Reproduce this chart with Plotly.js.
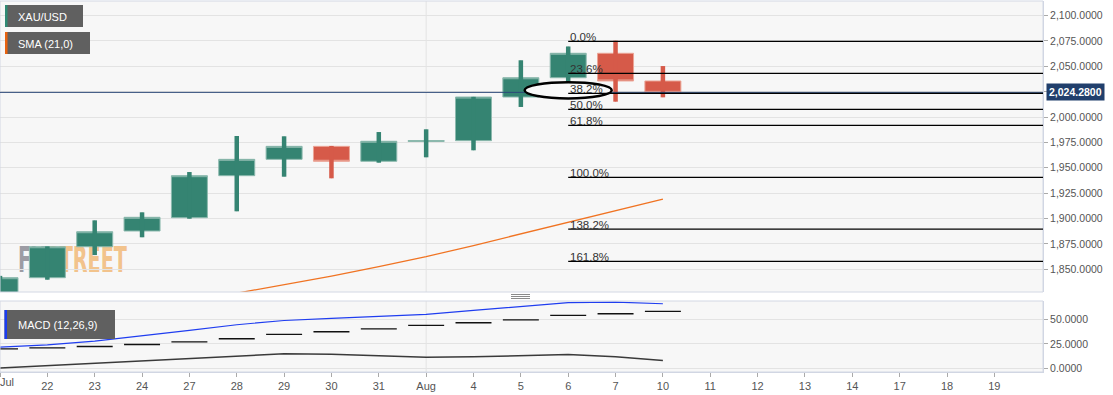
<!DOCTYPE html>
<html><head><meta charset="utf-8">
<script src="https://cdn.plot.ly/plotly-3.0.1.min.js"></script>
<style>html,body{margin:0;padding:0;background:#fff}#chart{width:1113px;height:395px}</style>
</head><body><div id="chart"></div>
<script>
// ---------- DATA ----------
const tickLabels = ['Jul','22','23','24','27','28','29','30','31','Aug','4','5','6','7','10','11','12','13','14','17','18','19'];
const candleIdx = [0,1,2,3,4,5,6,7,8,9,10,11,12,13,14];
const openP  = [1817.0,1841.7,1872.2,1887.7,1900.8,1942.2,1958.3,1971.1,1956.4,1975.9,1976.7,2019.7,2038.7,2062.8,2035.5];
const highP  = [1843.5,1872.6,1898.2,1906.1,1945.8,1981.3,1981.0,1971.5,1985.2,1987.9,2019.9,2055.9,2069.5,2075.2,2050.2];
const lowP   = [1815.0,1839.7,1864.0,1881.5,1899.8,1907.1,1941.2,1939.6,1955.0,1960.3,1967.2,2009.9,2034.0,2015.1,2019.4];
const closeP = [1841.7,1872.2,1887.0,1901.2,1942.2,1958.3,1971.1,1956.4,1976.1,1976.8,2019.7,2038.7,2062.8,2035.5,2024.28];
const smaIdx = [4,5,6,7,8,9,10,11,12,13,14];
const smaVal = [1818.0,1826.4,1834.8,1843.3,1852.7,1862.5,1873.4,1885.0,1896.5,1907.9,1919.2];
const macdVal   = [21.6,24.0,27.7,32.8,38.5,44.3,48.6,50.7,52.7,54.7,58.8,62.8,66.6,67.2,65.5];
const signalVal = [19.9,20.9,22.3,24.3,27.0,30.1,34.5,37.2,40.2,43.6,46.3,49.3,53.7,55.4,57.8];
const histVal   = [0.6,3.0,5.3,8.1,10.5,13.0,14.9,14.5,13.0,11.5,11.8,13.0,14.2,12.0,8.1];
const fibLevels = [0,23.6,38.2,50,61.8,100,138.2,161.8];
const fibHigh = 2074.5, fibLow = 1940.6, fibStart = 12;
const currentPrice = 2024.28;
const monthStartIdx = 9;

// ---------- helpers ----------
const PW = 1043, PT = 1, PB = 372;
const px = x => x / PW;
const py = y => (PB - y) / (PB - PT);
const GREEN = '#358472', RED = '#d65a49';

const incW = [], decW = [];
candleIdx.forEach((i,k)=>{
  const arr = closeP[k] >= openP[k] ? incW : decW;
  arr.push({x:i, h:highP[k], l:lowP[k]});
});
function wickTrace(list,color){
  const xs=[], ys=[];
  list.forEach(w=>{xs.push(w.x,w.x,null); ys.push(w.h,w.l,null);});
  return {type:'scatter',mode:'lines',x:xs,y:ys,xaxis:'x',yaxis:'y',line:{color:color,width:4.5},hoverinfo:'skip'};
}
const sigX=[], sigY=[];
candleIdx.forEach((i,k)=>{sigX.push(i-0.38,i+0.38,null); sigY.push(signalVal[k],signalVal[k],null);});

const traces = [
  {type:'candlestick', x:candleIdx, open:openP, high:highP, low:lowP, close:closeP, xaxis:'x', yaxis:'y',
   increasing:{line:{color:'#8cb9ae',width:1}, fillcolor:GREEN},
   decreasing:{line:{color:'#eba596',width:1}, fillcolor:RED},
   whiskerwidth:0, hoverinfo:'skip'},
  wickTrace(incW, GREEN),
  wickTrace(decW, RED),
  {type:'scatter',mode:'lines',x:smaIdx,y:smaVal,xaxis:'x',yaxis:'y',line:{color:'#f07322',width:1.3},hoverinfo:'skip'},
  {type:'scatter',mode:'lines',x:candleIdx,y:histVal,xaxis:'x',yaxis:'y2',line:{color:'#3a3a3a',width:1.5},hoverinfo:'skip'},
  {type:'scatter',mode:'lines',x:sigX,y:sigY,xaxis:'x',yaxis:'y2',line:{color:'#111',width:1.3},hoverinfo:'skip'},
  {type:'scatter',mode:'lines',x:candleIdx,y:macdVal,xaxis:'x',yaxis:'y2',line:{color:'#1f3df0',width:1.2},hoverinfo:'skip'}
];

const fibVal = fibLevels.map(l => fibHigh - (fibHigh - fibLow) * l / 100);
const fib382 = fibVal[fibLevels.indexOf(38.2)];

const shapes = [];
shapes.push({type:'line',xref:'x',yref:'y domain',x0:monthStartIdx,x1:monthStartIdx,y0:0,y1:1,line:{color:'#e3e3e3',width:1},layer:'below'});
shapes.push({type:'line',xref:'x',yref:'y2 domain',x0:monthStartIdx,x1:monthStartIdx,y0:0,y1:1,line:{color:'#e3e3e3',width:1},layer:'below'});
// watermark
shapes.push({type:'rect',xref:'paper',yref:'paper',x0:px(15),x1:px(200),y0:py(272),y1:py(242),line:{width:0},fillcolor:'rgba(0,0,0,0)',layer:'below',
  label:{text:'<span style="color:#9c9ca4">FX</span><span style="color:#f2c38c">STREET</span>',textposition:'middle left',padding:0,
  font:{family:'DejaVu Sans Condensed, Liberation Sans Narrow, sans-serif',size:36,weight:'bold',color:'#f2c38c'}}});
// panel borders
shapes.push({type:'rect',xref:'paper',yref:'paper',x0:0,x1:1,y0:py(292),y1:1,line:{color:'#d3d8e4',width:1},fillcolor:'rgba(0,0,0,0)',layer:'above'});
shapes.push({type:'rect',xref:'paper',yref:'paper',x0:0,x1:1,y0:0,y1:py(301),line:{color:'#d3d8e4',width:1},fillcolor:'rgba(0,0,0,0)',layer:'above'});
// current price line
shapes.push({type:'line',xref:'paper',yref:'y',x0:0,x1:1,y0:currentPrice,y1:currentPrice,line:{color:'#2b4878',width:1},layer:'above'});
// ellipse drawing around the 38.2% label
shapes.push({type:'circle',xref:'x',yref:'y',x0:fibStart-0.92,x1:fibStart+0.92,y0:fib382-5,y1:fib382+11,line:{color:'#000',width:2.5},fillcolor:'#f9f9f9',layer:'above'});
// fib lines
fibVal.forEach(v=>shapes.push({type:'line',xref:'x',yref:'y',x0:fibStart,x1:23,y0:v,y1:v,line:{color:'#000',width:1.3},layer:'above'}));
// legend boxes
function legendBox(x0,x1,y0,y1,strip){
  shapes.push({type:'rect',xref:'paper',yref:'paper',x0:px(x0),x1:px(x1),y0:py(y1),y1:py(y0),line:{width:0},fillcolor:'#606060',layer:'above'});
  shapes.push({type:'rect',xref:'paper',yref:'paper',x0:px(x0),x1:px(x0+2.5),y0:py(y1),y1:py(y0),line:{width:0},fillcolor:strip,layer:'above'});
}
legendBox(5,83,5,27,'#2f8a74');
legendBox(5,90,32,54,'#e8620f');
legendBox(4.5,115,310,339,'#1a3cf0');
// panel handle
[294.5,296.5,298.5].forEach(y=>shapes.push({type:'line',xref:'paper',yref:'paper',x0:px(511),x1:px(530),y0:py(y),y1:py(y),line:{color:'#8a8a8a',width:1},layer:'above'}));

const annotations = [];
fibLevels.forEach((l,k)=>annotations.push({xref:'x',yref:'y',x:fibStart,y:fibVal[k],xanchor:'left',yanchor:'bottom',xshift:1,yshift:-2.5,
  text:l.toFixed(1)+'%',showarrow:false,borderpad:0,font:{size:11.5,color:'#333'}}));
annotations.push({xref:'paper',yref:'y',x:1,y:currentPrice,xanchor:'left',yanchor:'middle',xshift:3,
  text:'<b>'+currentPrice.toLocaleString('en-US',{minimumFractionDigits:4,maximumFractionDigits:4})+'</b>',
  showarrow:false,bgcolor:'#213f6c',borderpad:2,font:{size:10.5,color:'#fff'}});
function legendText(t,x,yc){annotations.push({xref:'paper',yref:'paper',x:px(x),y:py(yc),xanchor:'left',yanchor:'middle',text:t,showarrow:false,borderpad:0,font:{size:11,color:'#fff'}});}
legendText('XAU/USD',17,16.5);
legendText('SMA (21,0)',17,43.5);
legendText('MACD (12,26,9)',17,324.5);
// first x tick label sits at the plot's left edge, so it is placed right of its tick
annotations.push({xref:'x',yref:'paper',x:0,y:py(381.5),xanchor:'left',yanchor:'middle',xshift:-1,text:tickLabels[0],showarrow:false,borderpad:0,font:{size:11,color:'#555'}});

const tickVals = tickLabels.map((_,i)=>i);
const tickText = tickLabels.map((t,i)=> i===0 ? '' : t);

const layout = {
  width:1113, height:395, margin:{l:0,r:70,t:PT,b:395-PB},
  paper_bgcolor:'#ffffff', plot_bgcolor:'#f7f7f7', showlegend:false, dragmode:false,
  boxgap:0.24, boxgroupgap:0,
  font:{family:'Liberation Sans, Arial, sans-serif',size:11,color:'#555'},
  xaxis:{range:[0,PW/47.35],tickvals:tickVals,ticktext:tickText,showgrid:false,zeroline:false,ticks:'outside',ticklen:4,
    tickcolor:'#aaa',showline:true,linecolor:'#cfd5e3',anchor:'y2',rangeslider:{visible:false},tickfont:{size:11,color:'#555'},fixedrange:true},
  yaxis:{domain:[py(292),1],range:[1827.6,2114.3],side:'right',tick0:0,dtick:25,tickformat:',.4f',ticks:'outside',ticklen:4,
    tickcolor:'#aaa',gridcolor:'#e3e3e3',showline:true,linecolor:'#cfd5e3',zeroline:false,tickfont:{size:10.5,color:'#555'},fixedrange:true},
  yaxis2:{domain:[0,py(301)],range:[-3.5,68.3],side:'right',tickvals:[0,25,50],tickformat:'.4f',ticks:'outside',ticklen:4,
    tickcolor:'#aaa',gridcolor:'#e3e3e3',showline:true,linecolor:'#cfd5e3',zeroline:false,tickfont:{size:10.5,color:'#555'},anchor:'x',fixedrange:true},
  shapes:shapes, annotations:annotations
};

Plotly.newPlot('chart', traces, layout, {staticPlot:true,displayModeBar:false}).then(()=>{
  document.querySelectorAll('text').forEach(el=>{
    if(el.textContent==='FXSTREET'){
      const bb = el.getBBox();
      const x0 = bb.x;
      const sx = 109 / bb.width;
      const old = el.getAttribute('transform')||'';
      el.setAttribute('transform',`translate(${x0},0) scale(${sx},1) translate(${-x0},0) ${old}`);
    }
  });
});
</script>
</body></html>
